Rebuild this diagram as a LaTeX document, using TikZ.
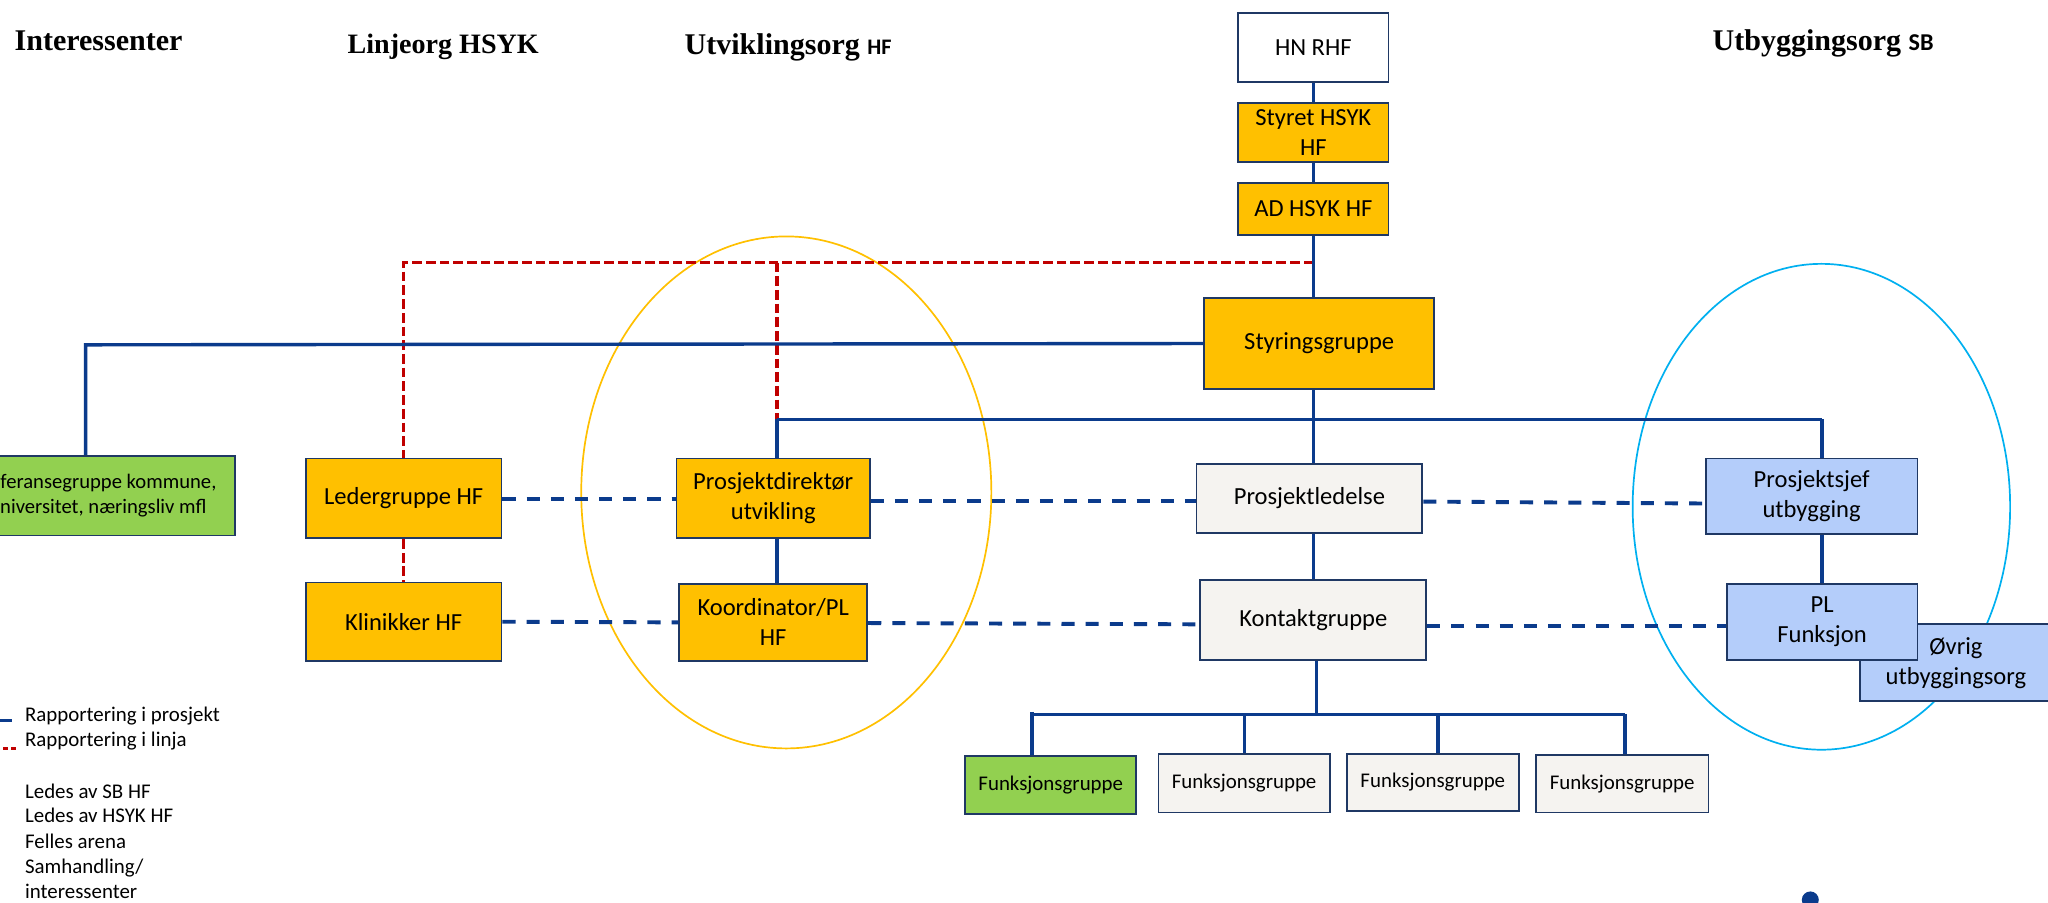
\documentclass[tikz,border=0pt]{standalone}
\usepackage{fontspec}
\setmainfont{Carlito}
\newfontfamily\hdrfont{Liberation Serif}
\definecolor{navy}{HTML}{0B3B8C}
\definecolor{bordernavy}{HTML}{1F3864}
\definecolor{ylw}{HTML}{FFC000}
\definecolor{grn}{HTML}{92D050}
\definecolor{lgray}{HTML}{F5F3F0}
\definecolor{lblue}{HTML}{B4CDFA}
\definecolor{redline}{HTML}{C00000}
\definecolor{cyanring}{HTML}{00B0F0}
\begin{document}
\begin{tikzpicture}[x=1pt,y=-1pt,
  obox/.style={draw=bordernavy, line width=1.4pt, inner sep=0pt, align=center,
               font=\fontsize{18.8}{23}\selectfont, text=black},
  solidln/.style={draw=navy, line width=2.6pt},
  dashln/.style={draw=navy, line width=3pt, dash pattern=on 10pt off 8.5pt},
  redln/.style={draw=redline, line width=2.6pt, dash pattern=on 7.5pt off 3pt},
  hdr/.style={anchor=base west, inner sep=0pt, font=\hdrfont\bfseries\fontsize{23}{27}\selectfont},
  leg/.style={anchor=base west, inner sep=0pt, font=\fontsize{16}{19}\selectfont},
  ring/.style={line width=1.3pt}]
\useasboundingbox (0,0) rectangle (1568,690.6);
\begin{scope}
\clip (0,0) rectangle (1568,690.6);
\fill[white] (0,0) rectangle (1568,690.6);

% ellipses
\draw[ring, draw=ylw] (602,377) ellipse [x radius=157, y radius=196];
\draw[ring, draw=cyanring] (1394.5,388) ellipse [x radius=144.5, y radius=186];

% headers
\node[hdr] (h1) at (11,38.8) {Interessenter};
\node[hdr, font=\hdrfont\bfseries\fontsize{21.5}{26}\selectfont] (h2) at (266,40.8) {Linjeorg HSYK};
\node[hdr] (h3) at (524,41.4) {Utviklingsorg {\normalfont\bfseries\fontsize{17}{18}\selectfont HF}};
\node[hdr] (h4) at (1311,38.3) {Utbyggingsorg {\normalfont\bfseries\fontsize{18.5}{20}\selectfont SB}};

% boxes
\node[obox, fill=white, minimum width=115pt, minimum height=53pt] (hn) at (1005.5,36.5) {HN RHF};
\node[obox, fill=ylw, minimum width=115pt, minimum height=45pt] (styret) at (1005.5,101.5) {Styret HSYK\\HF};
\node[obox, fill=ylw, minimum width=115pt, minimum height=40pt] (ad) at (1005.5,160) {AD HSYK HF};
\node[obox, fill=ylw, minimum width=176pt, minimum height=70pt] (styr) at (1010,263) {Styringsgruppe};

\node[obox, fill=grn, minimum width=210pt, minimum height=61pt,
      font=\fontsize{15.8}{19.3}\selectfont] (ref) at (75,379.5) {Referansegruppe kommune,\\universitet, næringsliv mfl};
\node[obox, fill=ylw, minimum width=150pt, minimum height=61pt] (leder) at (309,381.5) {Ledergruppe HF};
\node[obox, fill=ylw, minimum width=150pt, minimum height=60pt] (klin) at (309,476) {Klinikker HF};
\node[obox, fill=ylw, minimum width=148pt, minimum height=61pt] (pd) at (592,381.5) {Prosjektdirektør\\utvikling};
\node[obox, fill=ylw, minimum width=144pt, minimum height=59pt] (koord) at (592,476.5) {Koordinator/PL\\HF};
\node[obox, fill=lgray, minimum width=173pt, minimum height=53pt] (pled) at (1002.5,381.5) {Prosjektledelse};
\node[obox, fill=lgray, minimum width=173pt, minimum height=61pt] (kontakt) at (1005.5,474.5) {Kontaktgruppe};
\node[obox, fill=lblue, minimum width=162pt, minimum height=58pt] (psjef) at (1387,380) {Prosjektsjef\\utbygging};
\node[obox, fill=lblue, minimum width=147pt, minimum height=59pt] (ovrig) at (1497.5,507.5) {Øvrig\\utbyggingsorg};
\node[obox, fill=lblue, minimum width=146pt, minimum height=58pt] (plf) at (1395,476) {PL\\Funksjon};

\node[obox, fill=grn, minimum width=131pt, minimum height=44pt, font=\fontsize{16}{19}\selectfont] (f1) at (804.5,601) {Funksjonsgruppe};
\node[obox, fill=lgray, minimum width=131pt, minimum height=45pt, font=\fontsize{16}{19}\selectfont] (f2) at (952.5,599.5) {Funksjonsgruppe};
\node[obox, fill=lgray, minimum width=132pt, minimum height=44pt, font=\fontsize{16}{19}\selectfont] (f3) at (1097,599) {Funksjonsgruppe};
\node[obox, fill=lgray, minimum width=132pt, minimum height=44pt, font=\fontsize{16}{19}\selectfont] (f4) at (1242,600) {Funksjonsgruppe};

% junction coordinates
\coordinate (rj) at (1005.5,201);
\coordinate (bl) at (595,321);
\coordinate (br) at (1395,321);
\coordinate (refc) at (65.6,264);
\coordinate (fb) at (1008,547);
\coordinate (b1) at (790,547);
\coordinate (b2) at (953,547);
\coordinate (b3) at (1101,547);
\coordinate (b4) at (1244,547);

% red line reporting
\draw[redln] (rj) -- (leder.north |- rj) -- (leder.north);
\draw[redln] (bl |- rj) -- (bl);
\draw[redln] (leder.south) -- (klin.north);

% solid project reporting
\draw[solidln] (hn.south) -- (styret.north);
\draw[solidln] (styret.south) -- (ad.north);
\draw[solidln] (ad.south) -- (ad.south |- styr.north);
\draw[solidln] (styr.west) -- (refc) -- (refc |- ref.north);
\draw[solidln] (ad.south |- styr.south) -- (ad.south |- pled.north);
\draw[solidln] (bl) -- (br);
\draw[solidln] (bl) -- (bl |- pd.north);
\draw[solidln] (br) -- (br |- psjef.north);
\draw[solidln] (bl |- pd.south) -- (bl |- koord.north);
\draw[solidln] (br |- psjef.south) -- (br |- plf.north);
\draw[solidln] (ad.south |- pled.south) -- (ad.south |- kontakt.north);
\draw[solidln] (fb |- kontakt.south) -- (fb);
\draw[solidln] (b1) -- (b4);
\draw[solidln] ([yshift=2pt]b1) -- (b1 |- f1.north);
\draw[solidln] (b2) -- (b2 |- f2.north);
\draw[solidln] (b3) -- (b3 |- f3.north);
\draw[solidln] (b4) -- (b4 |- f4.north);

% dashed cooperation lines
\draw[dashln] ([yshift=-0.5pt]leder.east) -- ([yshift=-0.5pt]pd.west);
\draw[dashln] ([yshift=-2pt]pd.east) -- ([yshift=-2pt]pled.west);
\draw[dashln] ([yshift=-2.5pt]pled.east) -- ([yshift=-5.5pt]psjef.west);
\draw[dashln] (klin.east) -- (koord.west);
\draw[dashln] ([yshift=-0.5pt]koord.east) -- ([yshift=-3.5pt]kontakt.west);
\draw[dashln] ([yshift=-5pt]kontakt.east) -- ([yshift=-3.5pt]plf.west);

% legend
\coordinate (lg1) at (9,551.3);
\coordinate (lg2) at (12,573);
\draw[navy, line width=2.2pt] (lg1) -- ++(-40,0);
\draw[redline, line width=2.6pt, dash pattern=on 3.5pt off 2.5pt] (lg2) -- ++(-40,0);
\node[leg] (l1) at (19,552.6) {Rapportering i prosjekt};
\node[leg] (l2) at (19,571.7) {Rapportering i linja};
\node[leg] (l3) at (19,611) {Ledes av SB HF};
\node[leg] (l4) at (19,630) {Ledes av HSYK HF};
\node[leg] (l5) at (19,649.3) {Felles arena};
\node[leg] (l6) at (19,668.6) {Samhandling/};
\node[leg] (l7) at (19,687.8) {interessenter};

\node[circle, fill=navy, minimum size=13pt, inner sep=0pt] (dot) at (1386,689) {};
\end{scope}
\end{tikzpicture}
\end{document}
